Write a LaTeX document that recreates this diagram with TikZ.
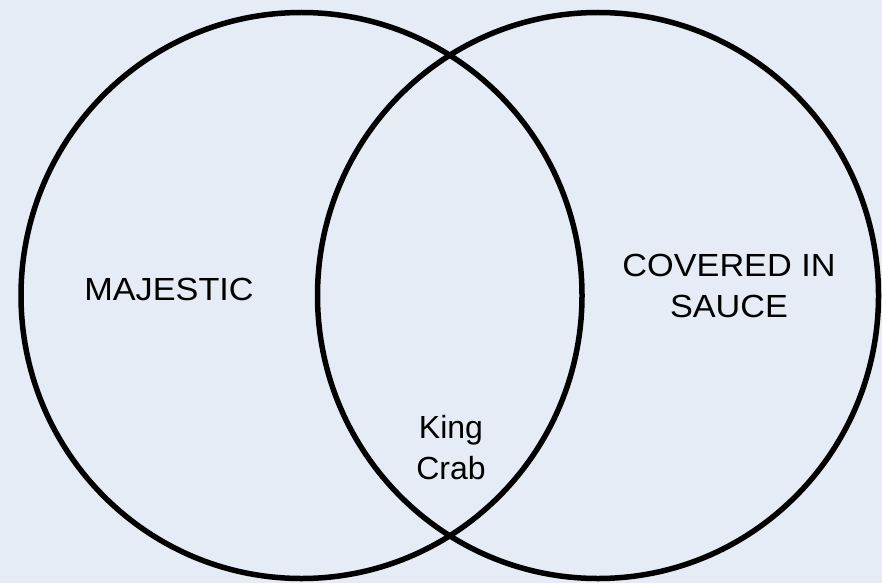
\documentclass[tikz,border=0pt]{standalone}
\usepackage{fontspec}
\setmainfont{Liberation Sans}
\usetikzlibrary{shapes.geometric}
\definecolor{paper}{RGB}{230,236,245}
\tikzset{
  setring/.style={draw=black, line width=5.5pt, ellipse, inner sep=0pt, minimum width=561pt, minimum height=566pt},
  setlabel/.style={anchor=base, align=center, inner sep=0pt, font=\fontsize{32}{41.5}\selectfont, text=black}
}
\newcommand{\wide}[1]{\scalebox{1.07}[1]{#1}}
\begin{document}
\begin{tikzpicture}[x=1pt,y=-1pt]
\fill[paper] (0,0) rectangle (882,583);
\useasboundingbox (0,0) rectangle (882,583);
\node[setring] (majestic) at (301.5,295.5) {};
\node[setring] (sauce) at (598,295.5) {};
\node[setlabel] (lmaj) at (169,300) {\wide{MAJESTIC}};
\node[setlabel] (lsauce) at (729,317.5) {\wide{COVERED IN}\\\wide{SAUCE}};
\node[setlabel] (lking) at (451,479.5) {King\\Crab};
\end{tikzpicture}
\end{document}
